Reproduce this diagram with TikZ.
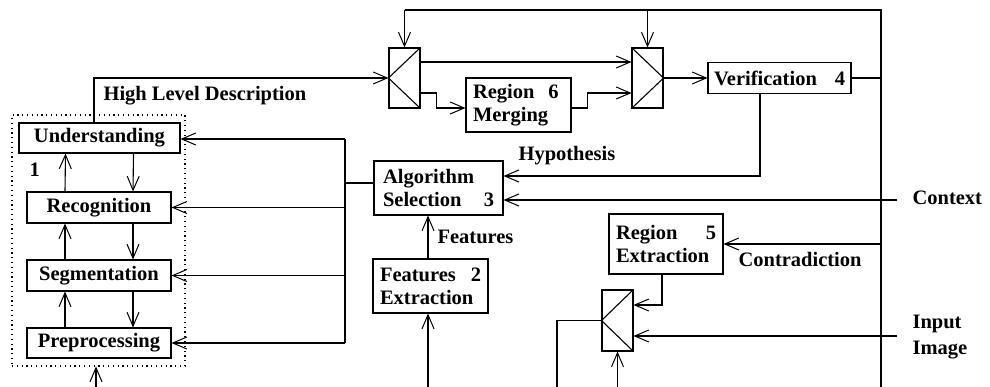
\documentclass[tikz,border=0pt]{standalone}
\usepackage{fontspec}
\setmainfont{Liberation Serif}
\usetikzlibrary{arrows.meta}
\begin{document}
\begin{tikzpicture}[x=1pt,y=-1pt,
  line width=1.1pt,
  arr/.style={-{Straight Barb[length=14pt,width=12pt,line width=1pt]}},
  every node/.style={font=\bfseries\fontsize{20.5}{23}\selectfont},
  box/.style={draw, inner sep=0pt, align=center},
  tbox/.style={draw, inner ysep=0pt, align=left},
  mux/.style={draw, inner sep=0pt, minimum width=31pt, minimum height=60pt},
  lbl/.style={inner sep=0pt, anchor=base west},
  grpbox/.style={draw, dash pattern=on 1.2pt off 3.6pt, inner sep=0pt}
]
\useasboundingbox (0,0) rectangle (990,387);

% processing levels
\node[box, minimum width=161pt, minimum height=30pt] (und) at (99.5,138) {Understanding};
\node[box, minimum width=144pt, minimum height=31pt] (rec) at (99,207.5) {Recognition};
\node[box, minimum width=144pt, minimum height=31pt] (seg) at (99,275.5) {Segmentation};
\node[box, minimum width=144pt, minimum height=30pt] (pre) at (99,343) {Preprocessing};
\node[grpbox, minimum width=173pt, minimum height=251pt] (grp) at (98.5,240.5) {};
\node[lbl] (one) at (29,177) {1};

% control boxes
\node[tbox, minimum width=129pt, minimum height=54pt, inner xsep=9pt, text width=111pt] (alg) at (438.5,188) {Algorithm\\Selection\hfill 3};
\node[tbox, minimum width=115pt, minimum height=54pt, inner xsep=7pt, text width=101pt] (fea) at (430.5,286) {Features\hfill 2\\Extraction};
\node[tbox, minimum width=105pt, minimum height=54pt, inner xsep=7pt, text width=91pt] (reg6) at (518.5,105) {Region\hspace{14pt}6\\Merging};
\node[tbox, minimum width=114pt, minimum height=60pt, inner xsep=7pt, text width=100pt] (reg5) at (666,244) {Region\hfill 5\\Extraction};
\node[tbox, minimum width=143pt, minimum height=31pt, inner xsep=6pt, text width=131pt] (ver) at (779.5,78) {Verification\hfill 4};

% switches
\node[mux] (mux1) at (404.5,78) {};
\node[mux] (mux2) at (647.5,78) {};
\node[mux, minimum height=61pt] (mux3) at (617.5,320.5) {};
\draw (mux1.north east) -- (mux1.west) -- (mux1.south east);
\draw (mux2.north west) -- (mux2.east) -- (mux2.south west);
\draw (mux3.north east) -- (mux3.west) -- (mux3.south east);

% labels
\node[lbl] (hld) at (103,101) {High Level Description};
\node[lbl] (hyp) at (518,161) {Hypothesis};
\node[lbl] (feat) at (437,244) {Features};
\node[lbl] (ctxt) at (912,205) {Context};
\node[lbl] (contr) at (738,267) {Contradiction};
\node[inner sep=0pt, anchor=west, align=left, font=\bfseries\fontsize{20.5}{26}\selectfont] (inimg) at (912,337) {Input\\Image};

% bus coordinates
\coordinate (lbt) at (345,139);
\coordinate (lb) at (345,183);
\coordinate (tr) at (881,10);
\coordinate (rb) at (881,387);
\coordinate (ctx) at (897,200);
\coordinate (img) at (897,336);
\coordinate (inB) at (96,387);
\coordinate (fb) at (428,387);
\coordinate (m3b) at (557,387);

% level links
\draw[arr] ([xshift=-34pt]rec.north) -- ([xshift=-34pt]und.south);
\draw[arr] ([xshift=-34pt]seg.north) -- ([xshift=-34pt]rec.south);
\draw[arr] ([xshift=-34pt]pre.north) -- ([xshift=-34pt]seg.south);
\draw[arr] ([xshift=34pt]und.south) -- ([xshift=34pt]rec.north);
\draw[arr] ([xshift=34pt]rec.south) -- ([xshift=34pt]seg.north);
\draw[arr] ([xshift=34pt]seg.south) -- ([xshift=34pt]pre.north);
\draw[arr] (inB) -- (inB |- grp.south);

% algorithm selection bus
\draw (lbt) -- (pre.east -| lbt);
\draw (alg.west |- lb) -- (lb);
\draw[arr] (lbt) -- (und.east |- lbt);
\draw[arr] (rec.east -| lbt) -- (rec.east);
\draw[arr] (seg.east -| lbt) -- (seg.east);
\draw[arr] (pre.east -| lbt) -- (pre.east);

% high level description path
\draw[arr] ([xshift=-5.5pt]und.north) |- (mux1.west);
\draw[arr] ([yshift=16pt]mux1.east) -- ([yshift=16pt]mux2.west);
\draw[arr] ([yshift=-15pt]mux1.east) -- ++(16,0) |- ([yshift=-3pt]reg6.west);
\draw[arr] ([yshift=-3pt]reg6.east) -- ++(16,0) |- ([yshift=-15pt]mux2.west);
\draw[arr] (mux2.east) -- (ver.west);

% feedback loop
\draw (mux1.north |- tr) -- (tr) -- (rb);
\draw[arr] (mux1.north |- tr) -- (mux1.north);
\draw[arr] (mux2.north |- tr) -- (mux2.north);
\draw (ver.east) -- (ver.east -| tr);
\draw[arr] ([xshift=-19.5pt]ver.south) |- ([yshift=12pt]alg.east);
\draw[arr] (ctx) -- ([yshift=-12pt]alg.east);
\draw[arr] (reg5.east -| tr) -- (reg5.east);

% features
\draw[arr] (fb) -- (fb |- fea.south);
\draw[arr] (fb |- fea.north) -- (fb |- alg.south);

% region extraction switch
\draw[arr] ([xshift=-4pt]reg5.south) |- ([yshift=15.5pt]mux3.east);
\draw[arr] (img) -- (img -| mux3.east);
\draw (mux3.west) -| (m3b);
\draw[arr] (mux3.south |- m3b) -- (mux3.south);
\end{tikzpicture}
\end{document}
